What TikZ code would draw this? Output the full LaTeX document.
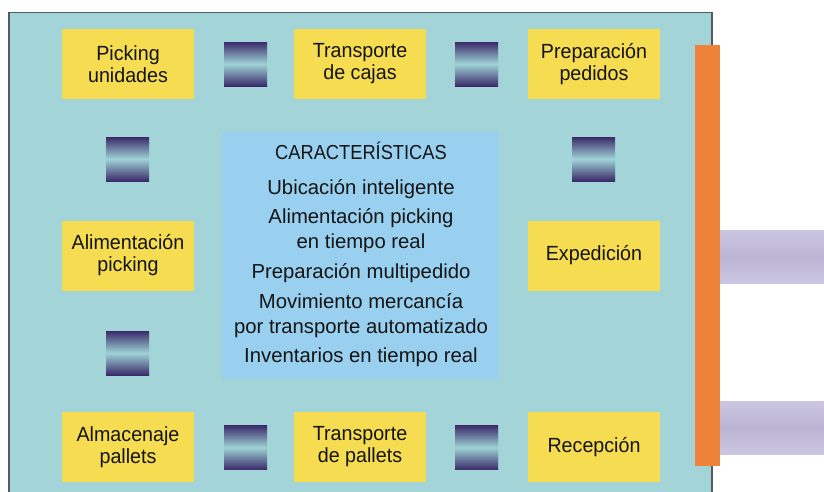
\documentclass[tikz,border=0pt]{standalone}
\usepackage{fontspec}
\setmainfont{Liberation Sans}
\newfontfamily\boxfont{Liberation Sans}[FakeStretch=0.96]
\newfontfamily\titlefont{Liberation Sans}[FakeStretch=0.9]
\definecolor{tealbg}{HTML}{A2D4D8}
\definecolor{frame}{HTML}{555A5C}
\definecolor{ybox}{HTML}{F5DC50}
\definecolor{bbox}{HTML}{99D0F0}
\definecolor{orng}{HTML}{EE8239}
\definecolor{lav}{HTML}{CBC6E0}
\definecolor{lavmid}{HTML}{BBB5D3}
\definecolor{purp}{HTML}{3B2A6B}
\definecolor{sqmid}{HTML}{9ED3D6}
\definecolor{ink}{HTML}{141414}
\begin{document}
\begin{tikzpicture}[x=1pt,y=-1pt,
  yellowbox/.style={fill=ybox, draw=none, minimum width=132pt, minimum height=70pt, inner sep=0pt,
    align=center, text=ink, font=\boxfont\fontsize{20.5}{22}\selectfont},
  gradsq/.style={minimum width=43pt, minimum height=44pt, inner sep=0pt, draw=none,
    top color=purp, bottom color=purp, middle color=sqmid},
  ctext/.style={inner sep=0pt, anchor=base, text=ink, font=\fontsize{20.3}{24}\selectfont}]
\useasboundingbox (0,0) rectangle (824,491);
\clip (0,0) rectangle (824,491);
% main panel
\draw[fill=tealbg, draw=frame, line width=1.6pt] (9,12.5) rectangle (712,505);
% lavender bars
\shade[top color=lav, bottom color=lav, middle color=lavmid] (719,230) rectangle (830,283);
\shade[top color=lav, bottom color=lav, middle color=lavmid] (719,401) rectangle (830,454);
% orange bar
\fill[orng] (695,45) rectangle (720,466);
% yellow boxes
\node[yellowbox] (pu) at (128,64) {Picking\\unidades};
\node[yellowbox] (tc) at (360,64) {Transporte\\de cajas};
\node[yellowbox] (pp) at (594,64) {Preparación\\pedidos};
\node[yellowbox] (ap) at (128,255.5) {Alimentación\\picking};
\node[yellowbox] (ex) at (594,255.5) {Expedición};
\node[yellowbox] (al) at (128,447) {Almacenaje\\pallets};
\node[yellowbox] (tp) at (360,447) {Transporte\\de pallets};
\node[yellowbox] (re) at (594,447) {Recepción};
% gradient squares
\node[gradsq] (s1) at (245.5,64) {};
\node[gradsq] (s2) at (476.5,64) {};
\node[gradsq] (s3) at (127.5,159) {};
\node[gradsq] (s4) at (127.5,353) {};
\node[gradsq] (s5) at (593.5,159) {};
\node[gradsq] (s6) at (245.5,447.5) {};
\node[gradsq] (s7) at (476.5,447.5) {};
% central box
\node[fill=bbox, minimum width=277pt, minimum height=247pt, inner sep=0pt] (cb) at (360.5,255.5) {};
\node[ctext, font=\titlefont\fontsize{20.3}{24}\selectfont] (t0) at (361,159.3) {CARACTERÍSTICAS};
\node[ctext] (t1) at (361,194) {Ubicación inteligente};
\node[ctext] (t2a) at (361,223.3) {Alimentación picking};
\node[ctext] (t2b) at (361,248.3) {en tiempo real};
\node[ctext] (t3) at (361,278) {Preparación multipedido};
\node[ctext] (t4a) at (361,308) {Movimiento mercancía};
\node[ctext] (t4b) at (361,333) {por transporte automatizado};
\node[ctext] (t5) at (361,362.7) {Inventarios en tiempo real};
\end{tikzpicture}
\end{document}
